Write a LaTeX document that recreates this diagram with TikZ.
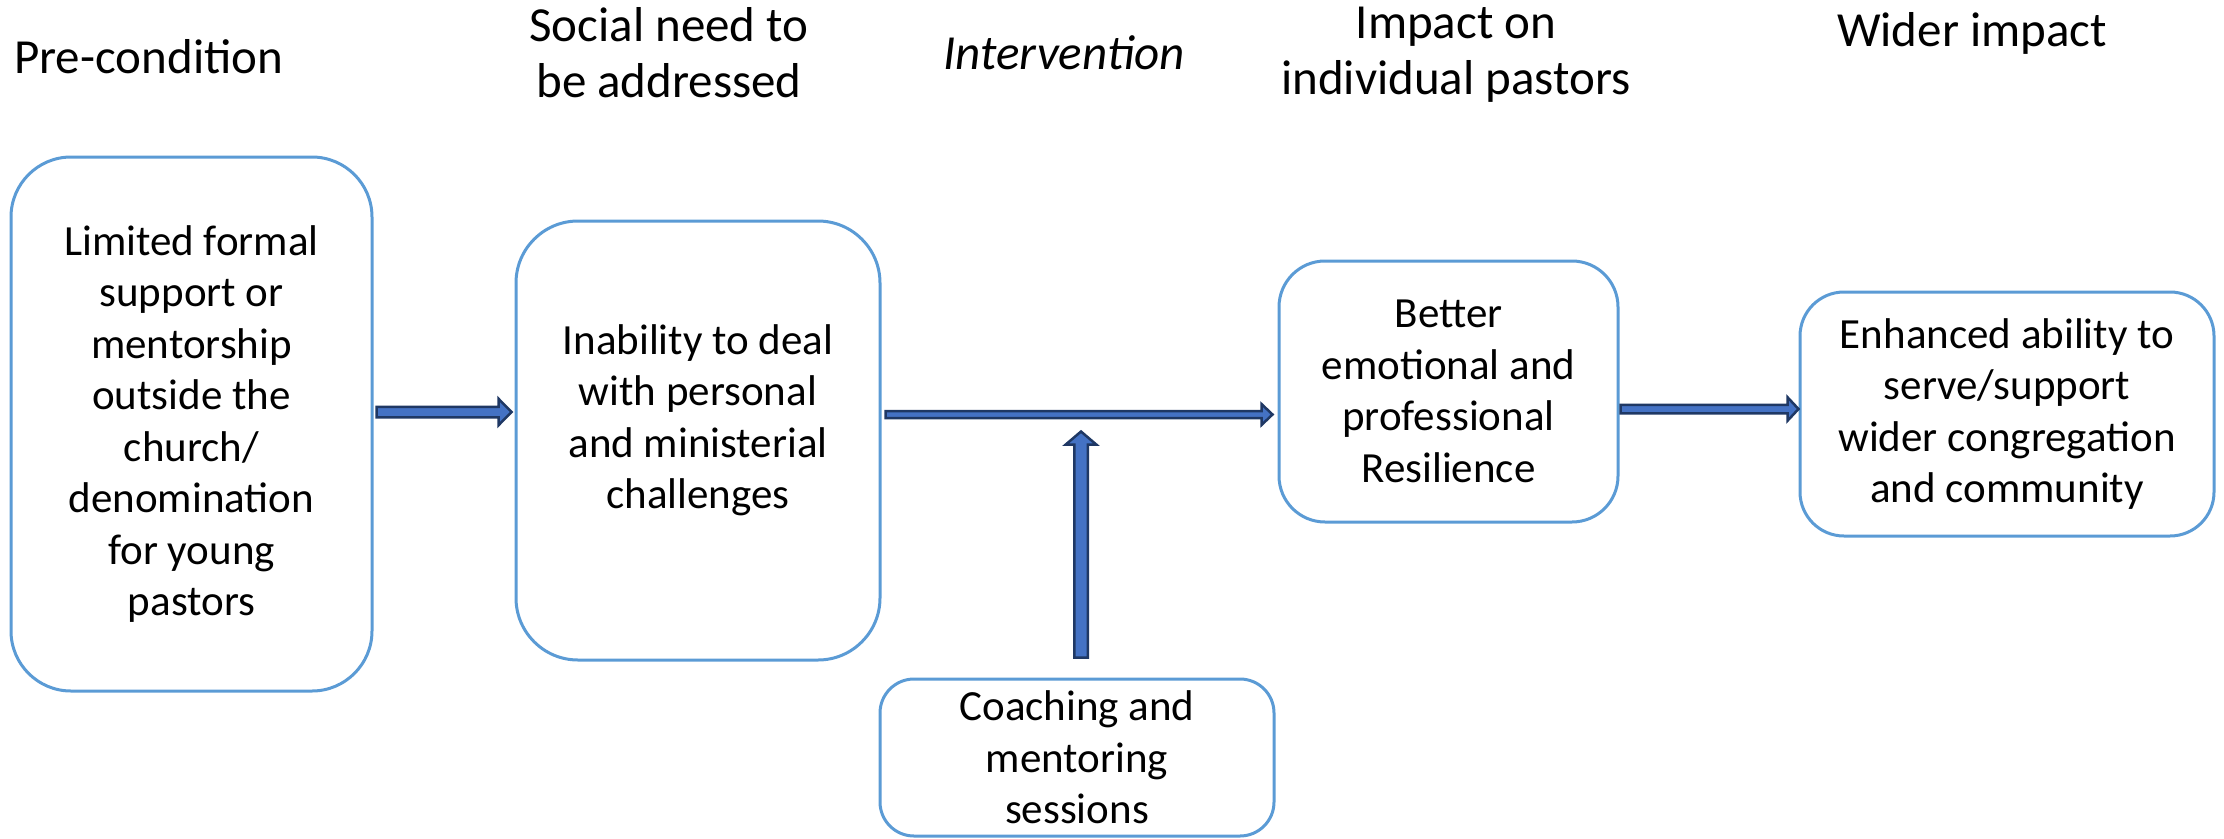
\documentclass[tikz,border=0pt]{standalone}
\usepackage{fontspec}
\setmainfont{Carlito}
\usetikzlibrary{calc}

\definecolor{boxblue}{HTML}{5B9BD5}
\definecolor{arrowfill}{HTML}{4472C4}
\definecolor{arrowedge}{HTML}{1F3864}

\newcommand\boxfont{\fontsize{43}{51.5}\selectfont}
\newcommand\headfont{\fontsize{49}{56}\selectfont}

% horizontal block arrow: #1 tail, #2 tip, #3 shaft half-height, #4 head half-height, #5 head length
\newcommand\hblockarrow[5]{%
  \draw[blockarrow] ($(#1)+(0,-#3)$) -- ($(#2)+(-#5,-#3)$) -- ($(#2)+(-#5,-#4)$) -- (#2)
    -- ($(#2)+(-#5,#4)$) -- ($(#2)+(-#5,#3)$) -- ($(#1)+(0,#3)$) -- cycle;}
% vertical block arrow pointing up: #1 tail, #2 tip, #3 shaft half-width, #4 head half-width, #5 head length
\newcommand\vblockarrow[5]{%
  \draw[blockarrow] ($(#1)+(-#3,0)$) -- ($(#2)+(-#3,#5)$) -- ($(#2)+(-#4,#5)$) -- (#2)
    -- ($(#2)+(#4,#5)$) -- ($(#2)+(#3,#5)$) -- ($(#1)+(#3,0)$) -- cycle;}

\begin{document}
\begin{tikzpicture}[x=1pt,y=-1pt,
  box/.style={draw=boxblue, line width=3pt, fill=white, align=center,
    inner sep=0pt, font=\boxfont},
  boxtext/.style={align=center, inner sep=0pt, font=\boxfont},
  head/.style={align=center, inner sep=0pt, font=\headfont},
  blockarrow/.style={fill=arrowfill, draw=arrowedge, line width=2.5pt, line join=miter}]

\useasboundingbox (0,0) rectangle (2224,838);

% column headings
\node[head, anchor=west] (h1) at (14,57) {Pre-condition};
\node[head] (h2) at (669,53) {Social need to\\be addressed};
\node[head] (h3) at (1064,53) {\itshape Intervention};
\node[head] (h4) at (1456,55) {Impact on\\individual pastors};
\node[head] (h5) at (1972,33) {Wider impact};

% boxes
\node[box, rounded corners=60pt, minimum width=361pt, minimum height=534pt] (b1) at (191.5,424)
  {Limited formal\\support or\\mentorship\\outside the\\church/\\denomination\\for young\\pastors};
\node[box, rounded corners=62pt, minimum width=364pt, minimum height=439pt] (b2) at (698,440.5) {};
\node[boxtext] (b2t) at ($(b2.center)+(0,-20)$)
  {Inability to deal\\with personal\\and ministerial\\challenges};
\node[box, rounded corners=46pt, minimum width=339pt, minimum height=261pt] (b3) at (1448.5,391.5)
  {Better\\emotional and\\professional\\Resilience};
\node[box, rounded corners=34pt, minimum width=394pt, minimum height=157pt] (b4) at (1077,757.5)
  {Coaching and\\mentoring\\sessions};
\node[box, rounded corners=44pt, minimum width=414pt, minimum height=244pt] (b5) at (2007,414)
  {Enhanced ability to\\serve/support\\wider congregation\\and community};

% arrow rows
\coordinate (row1) at (0,412);
\coordinate (row2) at (0,414.5);
\coordinate (row3) at (0,409);

\coordinate (a1s) at ($(b1.east |- row1)+(3,0)$);
\coordinate (a1e) at ($(b2.west |- row1)+(-3,0)$);
\coordinate (a2s) at ($(b2.east |- row2)+(4,0)$);
\coordinate (a2e) at ($(b3.west |- row2)+(-5,0)$);
\coordinate (a3s) at ($(b3.east |- row3)+(1,0)$);
\coordinate (a3e) at ($(b5.west |- row3)+(0,0)$);
\coordinate (a4s) at ($(b4.north)+(4,-20)$);
\coordinate (a4e) at ($(b4.north)+(4,-246)$);

\hblockarrow{a1s}{a1e}{5.25}{13.25}{13}
\hblockarrow{a2s}{a2e}{3.5}{10.5}{11}
\hblockarrow{a3s}{a3e}{4.25}{11.75}{11}
\vblockarrow{a4s}{a4e}{6.75}{15.25}{13}

\end{tikzpicture}
\end{document}
